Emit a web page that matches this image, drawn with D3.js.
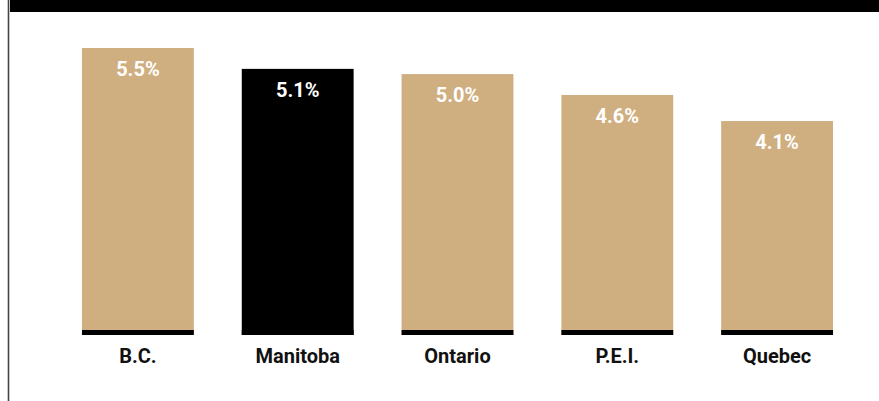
<!DOCTYPE html>
<html>
<head>
<meta charset="utf-8">
<script src="https://cdn.jsdelivr.net/npm/d3@7"></script>
<style>
  html, body { margin: 0; padding: 0; background: #fff; }
  svg { display: block; }
  text { font-family: Roboto, "Open Sans", sans-serif; font-weight: 700; }
</style>
</head>
<body>
<svg id="chart" width="879" height="401"></svg>
<script>
// Provinces and their rates (%)
const provinces = ["B.C.", "Manitoba", "Ontario", "P.E.I.", "Quebec"];
const rates = [5.5, 5.1, 5.0, 4.6, 4.1];
const highlighted = ["Manitoba"];

const W = 879, H = 401;
const tan = "#cfae80";
const svg = d3.select("#chart");

// Frame: black header strip and left rule
svg.append("rect").attr("x", 10).attr("y", 0).attr("width", W - 10).attr("height", 12).attr("fill", "#000");
svg.append("line").attr("x1", 8.5).attr("x2", 8.5).attr("y1", 0).attr("y2", H)
  .attr("stroke", "#444").attr("stroke-width", 1.6);

const x = d3.scaleBand().domain(provinces).range([58, 857]).paddingInner(0.3).paddingOuter(0.15);
const y = d3.scaleLinear().domain([0, 5.5]).range([335, 48]);

const data = provinces.map((p, i) => ({ p, v: rates[i] }));

const g = svg.append("g");

const bars = g.selectAll("g.bar").data(data).join("g").attr("class", "bar");

bars.append("rect")
  .attr("x", d => x(d.p))
  .attr("y", d => y(d.v))
  .attr("width", x.bandwidth())
  .attr("height", d => y(0) - y(d.v))
  .attr("fill", d => highlighted.includes(d.p) ? "#000" : tan);

// dark foot on each bar
bars.append("rect")
  .attr("x", d => x(d.p))
  .attr("y", y(0) - 5)
  .attr("width", x.bandwidth())
  .attr("height", 5)
  .attr("fill", "#000");

bars.append("text")
  .attr("x", d => x(d.p) + x.bandwidth() / 2)
  .attr("y", d => y(d.v) + 28)
  .attr("text-anchor", "middle")
  .attr("font-size", 20)
  .attr("fill", "#fff")
  .text(d => d.v.toFixed(1) + "%");

// category axis
const axis = d3.axisBottom(x).tickSize(0).tickPadding(0);
const ax = svg.append("g").attr("transform", `translate(0,${y(0)})`).call(axis);
ax.select(".domain").remove();
ax.selectAll("text")
  .attr("dy", null)
  .attr("y", 28)
  .attr("font-size", 20)
  .attr("font-family", "Roboto, 'Open Sans', sans-serif")
  .attr("font-weight", 700)
  .attr("fill", "#111");
</script>
</body>
</html>
